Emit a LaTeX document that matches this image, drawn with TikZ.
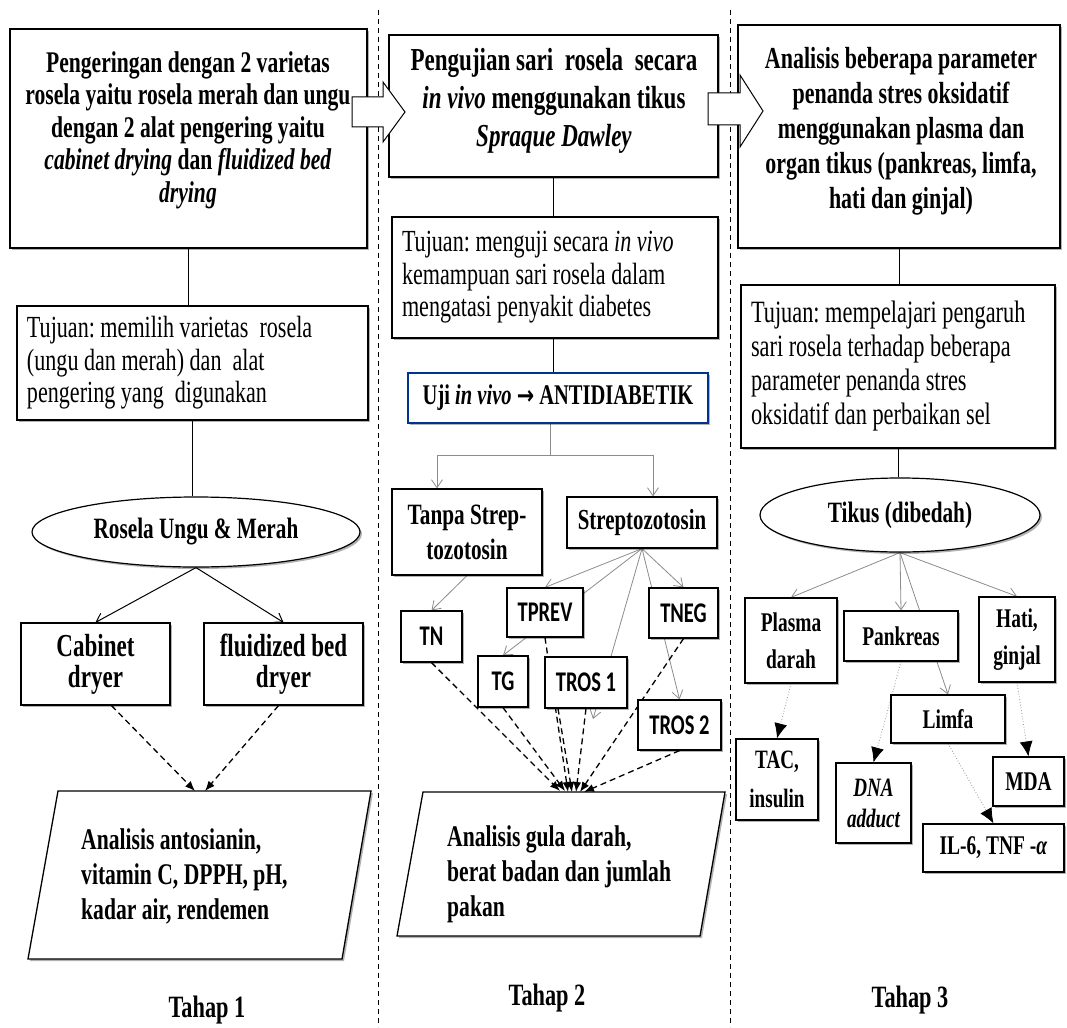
\documentclass[tikz,border=0pt]{standalone}
\usepackage{fontspec}
\setmainfont{Liberation Serif}[FakeStretch=0.72]
\newfontfamily\carl{Carlito}[FakeStretch=0.72]
\newfontfamily\arrfont{DejaVu Sans}[FakeStretch=0.8]
\usetikzlibrary{shapes.geometric,arrows.meta,shadows}
\pgfdeclarelayer{conn}
\pgfsetlayers{conn,main}
\frenchspacing
\begin{document}
\begin{tikzpicture}[x=1pt,y=-1pt,
  shd/.style={drop shadow={shadow xshift=2pt,shadow yshift=-2pt,opacity=0.3,fill=black}},
  bigbox/.style={draw,line width=2.6pt,fill=white,inner sep=0pt,shd},
  bigtxt/.style={align=center,inner sep=0pt,font=\bfseries\fontsize{30}{32.5}\selectfont},
  tujbox/.style={draw,line width=1.2pt,fill=white,align=flush left,inner xsep=10pt,inner ysep=0pt,font=\fontsize{30.7}{32.5}\selectfont,shd},
  lbox/.style={draw,line width=1.2pt,fill=white,align=center,inner sep=0pt,font=\bfseries\fontsize{29}{34}\selectfont,shd},
  sbox/.style={lbox,font=\carl\bfseries\fontsize{28.5}{30}\selectfont},
  rbox/.style={lbox,font=\bfseries\fontsize{27}{37}\selectfont},
  ellbox/.style={ellipse,draw,line width=1.2pt,fill=white,inner sep=0pt,font=\bfseries\fontsize{29.5}{30}\selectfont,shd},
  ptxt/.style={anchor=west,align=flush left,inner sep=0pt,font=\bfseries\fontsize{30}{35}\selectfont},
  tahap/.style={inner sep=0pt,font=\bfseries\fontsize{31}{33}\selectfont},
  blk/.style={draw=black,line width=1pt},
  gline/.style={draw=black!45,line width=0.8pt},
  garr/.style={gline,-{Straight Barb[length=8pt,width=11pt]}},
  karr/.style={draw=black,line width=1pt,-{Straight Barb[length=8pt,width=11pt]}},
  dasharr/.style={draw=black,line width=1.3pt,dash pattern=on 6pt off 4pt,-{Latex[length=10pt,width=8pt]}},
  dotarr/.style={draw=black!40,line width=0.8pt,dotted,-{Latex[length=15pt,width=13pt,color=black]}},
  sep/.style={draw=black,line width=1pt,dash pattern=on 5pt off 4pt},
  blockarrow/.style={draw=black,line width=1pt,fill=white}
]
\useasboundingbox (0,0) rectangle (1067,1027);
\begin{pgfonlayer}{conn}
\fill[white] (0,0) rectangle (1067,1027);
\end{pgfonlayer}

% separators
\coordinate (s1a) at (378,10); \coordinate (s1b) at (378,1027);
\coordinate (s2a) at (730,10); \coordinate (s2b) at (730,1027);
\draw[sep] (s1a) -- (s1b);
\draw[sep] (s2a) -- (s2b);

% ---------- column 1 ----------
\node[bigbox,minimum width=357pt,minimum height=219pt] (box1) at (188.5,138.5) {};
\node[bigtxt] (box1t) at (188,130) {Pengeringan dengan 2 varietas\\rosela yaitu rosela merah dan ungu\\dengan 2 alat pengering yaitu\\\textit{cabinet drying} dan \textit{fluidized bed}\\\textit{drying}};
\node[tujbox,text width=331pt,minimum height=114pt] (tuj1) at (192.5,363) {Tujuan: memilih varietas\ \ rosela\\(ungu dan merah) dan\ \ alat\\pengering yang\ \ digunakan};
\node[ellbox,minimum width=328pt,minimum height=70pt] (ell1) at (196,532) {Rosela Ungu \& Merah};
\node[lbox,minimum width=149pt,minimum height=82pt,font=\bfseries\fontsize{32}{31}\selectfont] (cab) at (95.5,664) {Cabinet\\dryer};
\node[lbox,minimum width=159pt,minimum height=82pt,font=\bfseries\fontsize{32}{31}\selectfont] (flu) at (283.5,664) {fluidized bed\\dryer};
\coordinate (p1a) at (58,791); \coordinate (p1b) at (371,791);
\coordinate (p1c) at (342,959); \coordinate (p1d) at (28,959);
\draw[line width=1.3pt,fill=white,shd] (p1a) -- (p1b) -- (p1c) -- (p1d) -- cycle;
\node[ptxt] (p1t) at (81,876) {Analisis antosianin,\\vitamin C, DPPH, pH,\\kadar air, rendemen};
\coordinate (p1tA) at (195,791); \coordinate (p1tB) at (205,791);
\node[tahap] (tahap1) at (207,1010) {Tahap 1};

% ---------- column 2 ----------
\node[bigbox,minimum width=329pt,minimum height=142pt] (box2) at (553.5,106) {};
\node[bigtxt,font=\bfseries\fontsize{32}{38}\selectfont] (box2t) at (554,101) {Pengujian sari\ \ rosela\ \ secara\\\textit{in vivo} menggunakan tikus\\\textit{Spraque Dawley}};
\node[tujbox,text width=306pt,minimum height=121pt] (tuj2) at (555,277.5) {Tujuan: menguji secara \textit{in vivo}\\kemampuan sari rosela dalam\\mengatasi penyakit diabetes};
\node[lbox,draw=blue!45!black!80!cyan,line width=1.5pt,minimum width=300pt,minimum height=50pt,font=\bfseries\fontsize{28.5}{30}\selectfont] (uji) at (558,398) {Uji \textit{in vivo} {\arrfont\bfseries\fontsize{26}{30}\selectfont →} ANTIDIABETIK};
\node[lbox,minimum width=150pt,minimum height=86pt,font=\bfseries\fontsize{29.5}{35}\selectfont] (tanpa) at (467,532) {Tanpa Strep-\\tozotosin};
\node[lbox,minimum width=150pt,minimum height=51pt] (strep) at (642,522.5) {Streptozotosin};
\node[sbox,minimum width=61pt,minimum height=51pt] (tn) at (431.5,636.5) {TN};
\node[sbox,minimum width=76pt,minimum height=49pt] (tprev) at (545,612.5) {TPREV};
\node[sbox,minimum width=69pt,minimum height=50pt] (tneg) at (683.5,613) {TNEG};
\node[sbox,minimum width=50pt,minimum height=51pt] (tg) at (503,681.5) {TG};
\node[sbox,minimum width=82pt,minimum height=51pt] (tros1) at (586,682.5) {TROS 1};
\node[sbox,minimum width=83pt,minimum height=50pt] (tros2) at (679.5,725) {TROS 2};
\coordinate (p2a) at (423,792); \coordinate (p2b) at (725,792);
\coordinate (p2c) at (700,936); \coordinate (p2d) at (397,936);
\draw[line width=1.3pt,fill=white,shd] (p2a) -- (p2b) -- (p2c) -- (p2d) -- cycle;
\node[ptxt] (p2t) at (447,874) {Analisis gula darah,\\berat badan dan jumlah\\pakan};
\node[tahap] (tahap2) at (547,998) {Tahap 2};

% ---------- column 3 ----------
\node[bigbox,minimum width=322pt,minimum height=223pt] (box3) at (899,136.5) {};
\node[bigtxt,font=\bfseries\fontsize{30.5}{35}\selectfont] (box3t) at (901,131) {Analisis beberapa parameter\\penanda stres oksidatif\\menggunakan plasma dan\\organ tikus (pankreas, limfa,\\hati dan ginjal)};
\node[tujbox,text width=294pt,minimum height=163pt,font=\fontsize{31}{34}\selectfont] (tuj3) at (898,366.5) {Tujuan: mempelajari pengaruh\\sari rosela terhadap beberapa\\parameter penanda stres\\oksidatif dan perbaikan sel};
\node[ellbox,minimum width=280pt,minimum height=74pt] (tik) at (900,515) {Tikus (dibedah)};
\node[rbox,minimum width=92pt,minimum height=85pt] (plasma) at (791,640.5) {Plasma\\darah};
\node[rbox,minimum width=114pt,minimum height=50pt] (pank) at (901,636) {Pankreas};
\node[rbox,minimum width=76pt,minimum height=85pt] (hati) at (1017,639.5) {Hati,\\ginjal};
\node[rbox,minimum width=114pt,minimum height=48pt] (limfa) at (948,719) {Limfa};
\node[rbox,minimum width=82pt,minimum height=81pt,font=\bfseries\fontsize{26.5}{39}\selectfont] (tac) at (777,779.5) {TAC,\\insulin};
\node[rbox,minimum width=75pt,minimum height=80pt,font=\bfseries\itshape\fontsize{26.5}{31}\selectfont] (dna) at (873.5,803) {DNA\\adduct};
\node[rbox,minimum width=71pt,minimum height=49pt] (mda) at (1028.5,781.5) {MDA};
\node[rbox,minimum width=141pt,minimum height=48pt] (il6) at (993.5,848) {IL-6, TNF -\textit{α}};
\node[tahap] (tahap3) at (910,1000) {Tahap 3};

% ---------- connectors ----------
\begin{pgfonlayer}{conn}
% column 1
\draw[blk] (box1.south) -- (box1.south |- tuj1.north);
\draw[blk] (tuj1.south) -- (tuj1.south |- ell1.north);
\draw[karr] (ell1.south) -- (cab.north);
\draw[karr] (ell1.south) -- (flu.north);
\draw[dasharr] ([xshift=16pt]cab.south) -- (p1tA);
\draw[dasharr] ([xshift=-5pt]flu.south) -- (p1tB);
% column 2
\draw[blk] (box2.south) -- (box2.south |- tuj2.north);
\draw[blk] (box2.south |- tuj2.south) -- (box2.south |- uji.north);
\coordinate (ujiJ) at (550,455);
\coordinate (tanpaT) at ([xshift=-30pt]tanpa.north);
\coordinate (strepT) at ([xshift=11pt]strep.north);
\draw[gline] (uji.south -| ujiJ) -- (ujiJ);
\draw[garr] (ujiJ) -- (ujiJ -| tanpaT) -- (tanpaT);
\draw[garr] (ujiJ) -- (ujiJ -| strepT) -- (strepT);
\draw[garr] (tanpa.south) -- (tn.north);
\draw[garr] (strep.south) -- (tprev.north);
\draw[garr] (strep.south) -- (tg.north);
\coordinate (t1tip) at (593,719);
\draw[garr] (strep.south) -- (t1tip);
\draw[garr] (strep.south) -- (tneg.north);
\draw[garr] (strep.south) -- (tros2.north);
\coordinate (q1) at (560,791); \coordinate (q2) at (565,791);
\coordinate (q3) at (568,792); \coordinate (q4) at (572,792);
\coordinate (q5) at (576,792); \coordinate (q6) at (580,792);
\coordinate (q7) at (584,792);
\draw[dasharr] (tn.south) -- (q1);
\draw[dasharr] (tg.south) -- (q2);
\draw[dasharr] (tprev.south) -- (q3);
\draw[dasharr] ([xshift=-28pt]tros1.south) -- (q4);
\draw[dasharr] (tros1.south) -- (q5);
\draw[dasharr] (tneg.south) -- (q6);
\draw[dasharr] (tros2.south) -- (q7);
% column 3
\draw[blk] (box3.south) -- (box3.south |- tuj3.north);
\draw[blk] (tuj3.south) -- (tuj3.south |- tik.north);
\draw[garr] (tik.south) -- (plasma.north);
\draw[garr] (tik.south) -- (pank.north);
\draw[garr] (tik.south) -- (hati.north);
\draw[garr] (tik.south) -- (limfa.north);
\draw[dotarr] (plasma.south) -- (tac.north);
\draw[dotarr] (pank.south) -- (dna.north);
\draw[dotarr] (hati.south) -- (mda.north);
\draw[dotarr] (limfa.south) -- (il6.north);
\end{pgfonlayer}

% block arrows between stages
\draw[blockarrow] (352,97) -- (383,97) -- (383,82) -- (405,112) -- (383,142) -- (383,127) -- (352,127) -- cycle;
\draw[blockarrow] (708,93) -- (740,93) -- (740,75) -- (763,111) -- (740,147) -- (740,125) -- (708,125) -- cycle;
\end{tikzpicture}
\end{document}
